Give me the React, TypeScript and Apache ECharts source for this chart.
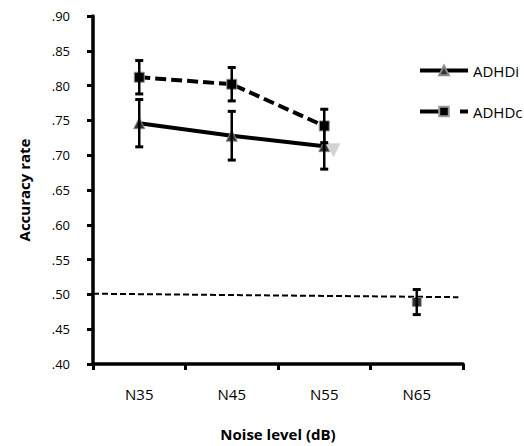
import React, { useEffect, useRef } from "react";
import * as echarts from "echarts";

const categories = ["N35", "N45", "N55", "N65"];
const adhdiValues = [0.746, 0.728, 0.713];
const adhdiErrors = [0.034, 0.035, 0.033];
const adhdcValues = [0.812, 0.802, 0.742];
const adhdcErrors = [0.024, 0.024, 0.024];
const n65Value = [0.489];
const n65Error = [0.018];
const chanceLine = [
  [0, 0.501],
  [3.95, 0.496],
];
const grayMarker = [[2.6, 0.707]];

const FONT = "'Open Sans', 'Liberation Sans', sans-serif";

function errData(vals: number[], errs: number[], offset = 0) {
  return vals.map((v, i) => [i + offset, v - errs[i], v + errs[i]]);
}

function renderErr(params: any, api: any) {
  const x = api.value(0);
  const lo = api.coord([x, api.value(1)]);
  const hi = api.coord([x, api.value(2)]);
  const cap = 4;
  const style = { stroke: "#000", lineWidth: 2.5 };
  return {
    type: "group",
    children: [
      { type: "line", shape: { x1: lo[0], y1: lo[1], x2: hi[0], y2: hi[1] }, style },
      { type: "line", shape: { x1: lo[0] - cap, y1: lo[1], x2: lo[0] + cap, y2: lo[1] }, style: { stroke: "#000", lineWidth: 3 } },
      { type: "line", shape: { x1: hi[0] - cap, y1: hi[1], x2: hi[0] + cap, y2: hi[1] }, style: { stroke: "#000", lineWidth: 3 } },
    ],
  };
}

export default function App() {
  const ref = useRef<HTMLDivElement>(null);
  useEffect(() => {
    if (!ref.current) return;
    const chart = echarts.init(ref.current, null, { renderer: "svg" });
    chart.setOption({
      animation: false,
      textStyle: { fontFamily: FONT },
      grid: { left: 93, right: 61, top: 16, bottom: 82 },
      legend: {
        orient: "vertical",
        left: 413,
        top: 58,
        itemWidth: 48,
        itemHeight: 12,
        itemGap: 26,
        textStyle: { fontSize: 15, color: "#000", fontFamily: FONT },
        data: [
          { name: "ADHDi", lineStyle: { width: 4, color: "#000" } },
          { name: "ADHDc", lineStyle: { width: 4, color: "#000", type: [26, 14] } },
        ],
      },
      xAxis: [
        {
          type: "category",
          data: categories,
          boundaryGap: true,
          name: "Noise level (dB)",
          nameLocation: "middle",
          nameGap: 62,
          nameTextStyle: { fontSize: 15, fontWeight: "bold", color: "#000", fontFamily: FONT },
          axisLine: { show: true, lineStyle: { color: "#000", width: 3.5 } },
          axisTick: { show: true, length: 6, lineStyle: { color: "#000", width: 3 } },
          axisLabel: { fontSize: 15, color: "#000", margin: 22, fontFamily: FONT },
          splitLine: { show: false },
        },
        {
          type: "value",
          min: 0,
          max: 4,
          show: false,
          splitLine: { show: false },
        },
      ],
      yAxis: {
        type: "value",
        min: 0.4,
        max: 0.9,
        interval: 0.05,
        name: "Accuracy rate",
        nameLocation: "middle",
        nameGap: 62,
        nameTextStyle: { fontSize: 15, fontWeight: "bold", color: "#000", fontFamily: FONT },
        axisLine: { show: true, lineStyle: { color: "#000", width: 3.5 } },
        axisTick: { show: true, length: 6, lineStyle: { color: "#000", width: 3 } },
        axisLabel: {
          fontSize: 13,
          color: "#000",
          margin: 23,
          fontFamily: FONT,
          formatter: (v: number) => v.toFixed(2).replace(/^0/, ""),
        },
        splitLine: { show: false },
      },
      series: [
        {
          name: "chance",
          type: "line",
          xAxisIndex: 1,
          data: chanceLine,
          symbol: "none",
          lineStyle: { color: "#000", width: 2, type: [6, 3] },
          z: 1,
        },
        {
          name: "ADHDi",
          type: "line",
          data: adhdiValues,
          symbol: "triangle",
          symbolSize: 11,
          itemStyle: { color: "#333", borderColor: "#888", borderWidth: 1 },
          lineStyle: { color: "#000", width: 4 },
          z: 3,
        },
        {
          name: "ADHDc",
          type: "line",
          data: adhdcValues,
          symbol: "rect",
          symbolSize: 10,
          itemStyle: { color: "#000", borderColor: "#999", borderWidth: 1 },
          lineStyle: { color: "#000", width: 4, type: [11, 5] },
          z: 3,
        },
        {
          name: "N65",
          type: "scatter",
          data: n65Value.map((v) => [3, v]),
          symbol: "rect",
          symbolSize: 9,
          itemStyle: { color: "#000", borderColor: "#999", borderWidth: 1 },
          z: 3,
        },
        {
          name: "gray",
          type: "scatter",
          xAxisIndex: 1,
          data: grayMarker,
          symbol: "triangle",
          symbolRotate: 180,
          symbolSize: [14, 14],
          itemStyle: { color: "#c8c8c8" },
          z: 2,
        },
        {
          type: "custom",
          renderItem: renderErr,
          data: errData(adhdiValues, adhdiErrors),
          encode: { x: 0, y: [1, 2] },
          z: 4,
        },
        {
          type: "custom",
          renderItem: renderErr,
          data: errData(adhdcValues, adhdcErrors),
          encode: { x: 0, y: [1, 2] },
          z: 4,
        },
        {
          type: "custom",
          renderItem: renderErr,
          data: errData(n65Value, n65Error, 3),
          encode: { x: 0, y: [1, 2] },
          z: 4,
        },
      ],
    });
    return () => chart.dispose();
  }, []);
  return (
    <div
      ref={ref}
      style={{ position: "fixed", left: 0, top: 0, width: 524, height: 446, background: "#fff" }}
    />
  );
}
